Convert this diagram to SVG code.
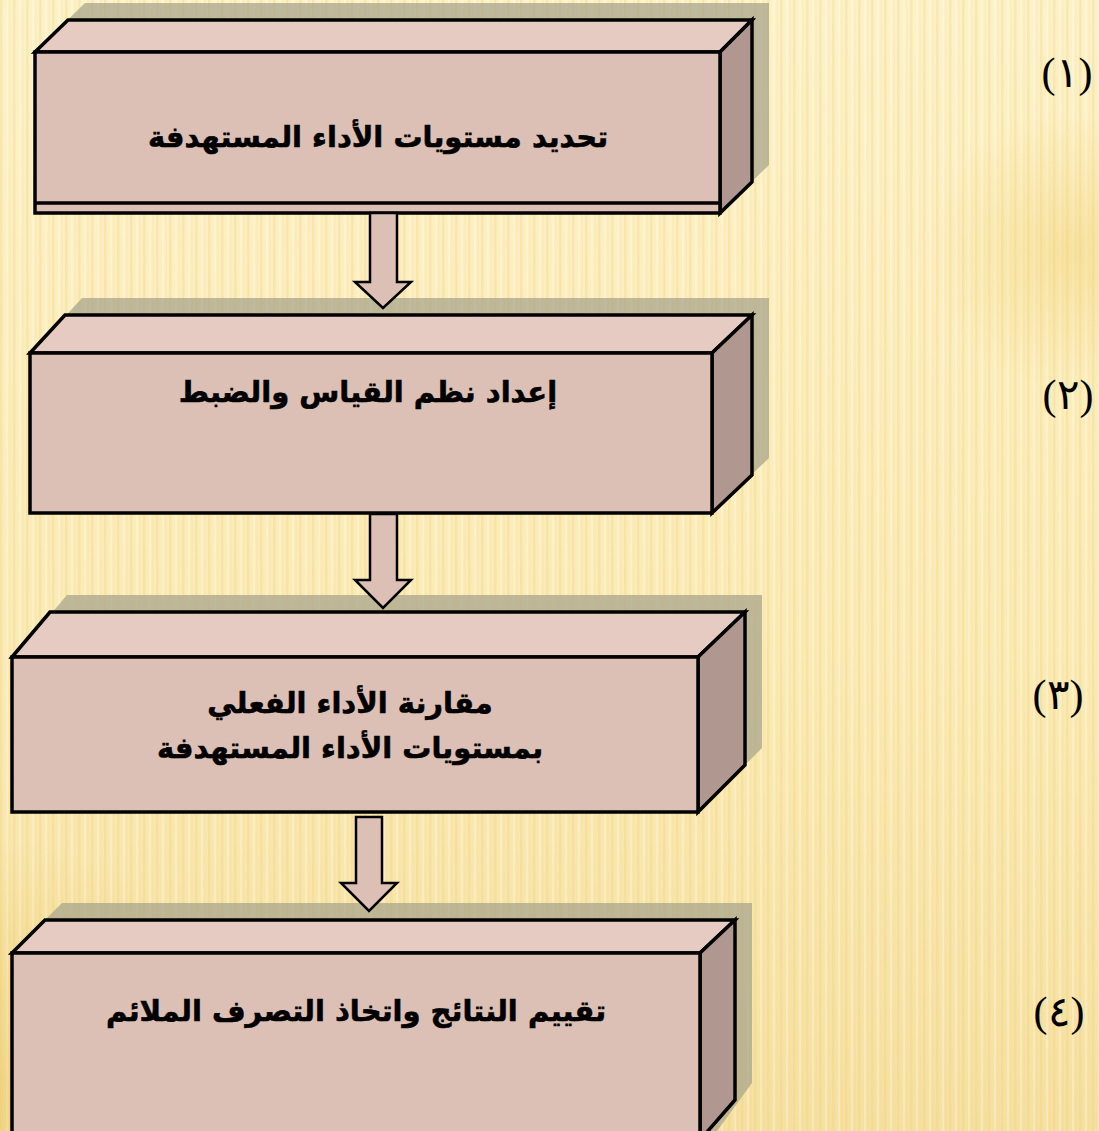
<svg xmlns="http://www.w3.org/2000/svg" width="1099" height="1131" viewBox="0 0 1099 1131">
<defs>
<pattern id="stripes" x="0" y="0" width="13" height="1131" patternUnits="userSpaceOnUse">
<rect x="0" y="0" width="2.5" height="1131" fill="#e6cb78" opacity="0.25"/>
<rect x="6" y="0" width="2" height="1131" fill="#ffffff" opacity="0.25"/>
<rect x="9.5" y="0" width="1" height="1131" fill="#e3c46a" opacity="0.15"/>
</pattern>
<radialGradient id="glowR" cx="1070" cy="250" r="140" gradientUnits="userSpaceOnUse">
<stop offset="0" stop-color="#efcd6a" stop-opacity="0.4"/>
<stop offset="1" stop-color="#efcd6a" stop-opacity="0"/>
</radialGradient>
<radialGradient id="glowBL" cx="0" cy="1100" r="260" gradientUnits="userSpaceOnUse">
<stop offset="0" stop-color="#e9c25a" stop-opacity="0.4"/>
<stop offset="1" stop-color="#e9c25a" stop-opacity="0"/>
</radialGradient>
<linearGradient id="bgGrad" x1="0" y1="0" x2="0" y2="1">
<stop offset="0" stop-color="#fdf1c6"/>
<stop offset="0.6" stop-color="#fbeab3"/>
<stop offset="1" stop-color="#f6e0a0"/>
</linearGradient>
<style>
.front{fill:#dcc0b5;stroke:#000;stroke-width:3.5;stroke-linejoin:miter}
.top{fill:#e6cbc3;stroke:#000;stroke-width:3.5;stroke-linejoin:miter}
.side{fill:#b09890;stroke:#000;stroke-width:3.5;stroke-linejoin:miter}
.shadow{fill:#aaa68c;opacity:0.75}
.arrow{fill:#dcc0b5;stroke:#000;stroke-width:2.5;stroke-linejoin:miter}
.lbl{font-family:"DejaVu Sans","Liberation Sans",sans-serif;font-weight:bold;font-size:29px;fill:#000;stroke:#000;stroke-width:0.6;text-anchor:middle}
.num{font-family:"Liberation Serif","DejaVu Serif",serif;font-size:42px;fill:#000;text-anchor:middle}
</style>
</defs>
<rect width="1099" height="1131" fill="url(#bgGrad)"/>
<rect width="1099" height="1131" fill="url(#stripes)"/>
<rect width="1099" height="1131" fill="url(#glowR)"/>
<rect width="1099" height="1131" fill="url(#glowBL)"/>

<g id="shadows">
<polygon class="shadow" points="85,3 769,3 769,165 737,196 52,196 52,35"/>
<polygon class="shadow" points="82,298 769,298 769,458 729,496 47,496 47,336"/>
<polygon class="shadow" points="67,595 762,595 762,748 715,795 29,795 29,640"/>
<polygon class="shadow" points="62,903 752,903 752,1083 717,1131 29,1131 29,936"/>
</g>

<g id="node1">
<polygon class="top" points="35,52 68,20 752,20 720,52"/>
<polygon class="side" points="720,52 752,20 752,182 720,213"/>
<rect class="front" x="35" y="52" width="685" height="161"/>
<line x1="35" y1="203" x2="720" y2="203" stroke="#000" stroke-width="3.5"/>
<text class="lbl" x="378" y="147" direction="rtl">تحديد مستويات الأداء المستهدفة</text>
</g>

<g id="node2">
<polygon class="top" points="30,353 65,315 752,315 712,353"/>
<polygon class="side" points="712,353 752,315 752,475 712,513"/>
<rect class="front" x="30" y="353" width="682" height="160"/>
<text class="lbl" x="368" y="402" direction="rtl">إعداد نظم القياس والضبط</text>
</g>

<g id="node3">
<polygon class="top" points="12,657 50,612 745,612 698,657"/>
<polygon class="side" points="698,657 745,612 745,765 698,812"/>
<rect class="front" x="12" y="657" width="686" height="155"/>
<text class="lbl" x="350" y="713" direction="rtl">مقارنة الأداء الفعلي</text>
<text class="lbl" x="350" y="758" direction="rtl">بمستويات الأداء المستهدفة</text>
</g>

<g id="node4">
<polygon class="top" points="12,953 45,920 735,920 700,953"/>
<polygon class="side" points="700,953 735,920 735,1100 700,1140"/>
<rect class="front" x="12" y="953" width="688" height="190"/>
<text class="lbl" x="356" y="1021" direction="rtl">تقييم النتائج واتخاذ التصرف الملائم</text>
</g>

<g id="connectors">
<polygon class="arrow" points="370,213 397,213 397,282 411,282 383,308 355,282 370,282"/>
<polygon class="arrow" points="370,514 397,514 397,580 411,580 383,608 355,580 370,580"/>
<polygon class="arrow" points="356,817 382,817 382,883 397,883 369,911 341,883 356,883"/>
</g>

<g id="numbers">
<text class="num" x="1067" y="87">(١)</text>
<text class="num" x="1068" y="409">(٢)</text>
<text class="num" x="1058" y="709">(٣)</text>
<text class="num" x="1059" y="1026">(٤)</text>
</g>
</svg>
